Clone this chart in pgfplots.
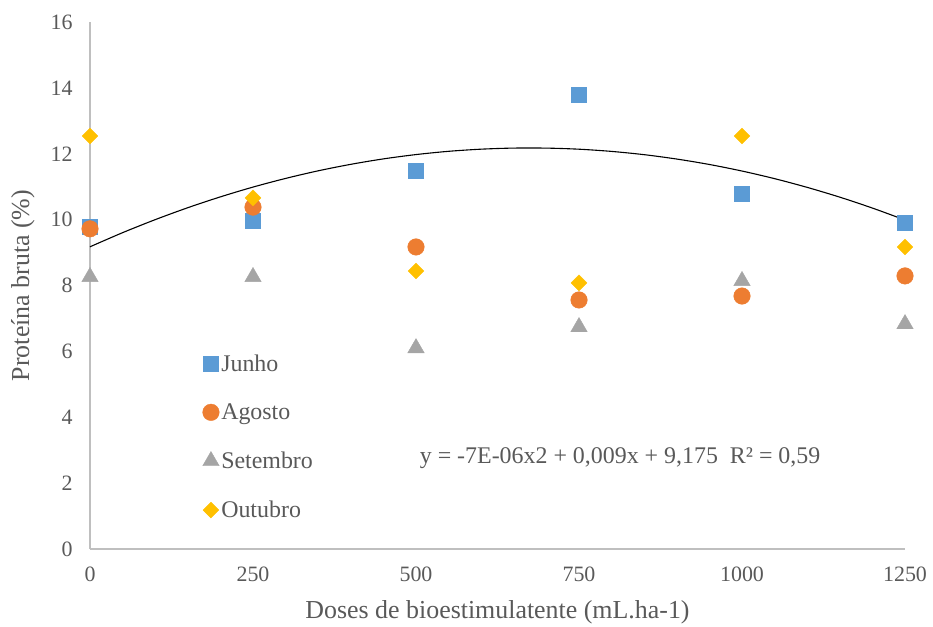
\documentclass[border=0pt]{standalone}
\usepackage{pgfplots}
\pgfplotsset{compat=1.18}
\usepackage{fontspec}
\setmainfont{Liberation Serif}
\definecolor{cjun}{HTML}{5B9BD5}
\definecolor{cago}{HTML}{ED7D31}
\definecolor{cset}{HTML}{A5A5A5}
\definecolor{cout}{HTML}{FFC000}
\definecolor{ctxt}{HTML}{595959}
\definecolor{caxis}{HTML}{BFBFBF}
\begin{document}
\begin{tikzpicture}
\useasboundingbox (-90bp,-78bp) rectangle (843bp,549bp);
\begin{axis}[
  scale only axis,
  width=815bp, height=527bp,
  at={(0,0)}, anchor=south west,
  xmin=0, xmax=1250, ymin=0, ymax=16,
  xtick={0,250,500,750,1000,1250},
  ytick={0,2,4,6,8,10,12,14,16},
  axis lines=left,
  axis line style={-, draw=caxis, line width=1.2bp},
  major tick length=0pt,
  /pgf/number format/assume math mode=true,
  /pgf/number format/1000 sep={},
  tick label style={font=\fontsize{22}{26}\selectfont, text=ctxt},
  yticklabel style={xshift=-14bp},
  xticklabel style={yshift=-14bp},
  xlabel={Doses de bioestimulatente (mL.ha-1)},
  ylabel={Proteína bruta (\%)},
  every axis y label/.style={at={(rel axis cs:0,0.5)}, xshift=-67bp, rotate=90, anchor=center,
    font=\fontsize{26}{30}\selectfont, text=ctxt},
  every axis x label/.style={at={(rel axis cs:0.5,0)}, yshift=-63bp, anchor=center,
    font=\fontsize{26}{30}\selectfont, text=ctxt},
  legend style={draw=none, fill=none, at={(rel axis cs:0.138,0.373)}, anchor=north west,
    font=\fontsize{24}{28}\selectfont, text=ctxt, row sep=27bp, inner sep=0pt},
  legend cell align=left,
  legend image code/.code={\draw[mark repeat=2,mark phase=2] plot coordinates {(0bp,0bp)(8bp,0bp)(16bp,0bp)};},
  clip=false,
]
\addplot[only marks, mark=square*, mark size=7.5bp, color=cjun] coordinates {
 (0,9.78) (250,9.96) (500,11.5) (750,13.78) (1000,10.8) (1250,9.9)};
\addlegendentry{Junho}
\addplot[only marks, mark=*, mark size=8.3bp, color=cago] coordinates {
 (0,9.72) (250,10.38) (500,9.17) (750,7.56) (1000,7.68) (1250,8.29)};
\addlegendentry{Agosto}
\addplot[only marks, mark=triangle*, mark size=9.5bp, color=cset] coordinates {
 (0,8.26) (250,8.26) (500,6.1) (750,6.74) (1000,8.14) (1250,6.83)};
\addlegendentry{Setembro}
\addplot[only marks, mark=square*, mark options={rotate=45}, mark size=5.6bp, color=cout] coordinates {
 (0,12.54) (250,10.66) (500,8.44) (750,8.08) (1000,12.54) (1250,9.17)};
\addlegendentry{Outubro}
\addplot[black, line width=1.1bp, smooth, forget plot] coordinates {
 (0,9.175) (50,9.604) (100,9.999) (150,10.362) (200,10.691) (250,10.988)
 (300,11.251) (350,11.482) (400,11.679) (450,11.844) (500,11.975) (550,12.074)
 (600,12.139) (650,12.172) (700,12.171) (750,12.138) (800,12.071) (850,11.972)
 (900,11.839) (950,11.674) (1000,11.475) (1050,11.244) (1100,10.979) (1150,10.682)
 (1200,10.351) (1250,9.988)};
\node[font=\fontsize{24}{28}\selectfont, text=ctxt, anchor=center] at (axis cs:813,2.75)
 {y = -7E-06x2 + 0,009x + 9,175\ \ R² = 0,59};
\end{axis}
\end{tikzpicture}
\end{document}
